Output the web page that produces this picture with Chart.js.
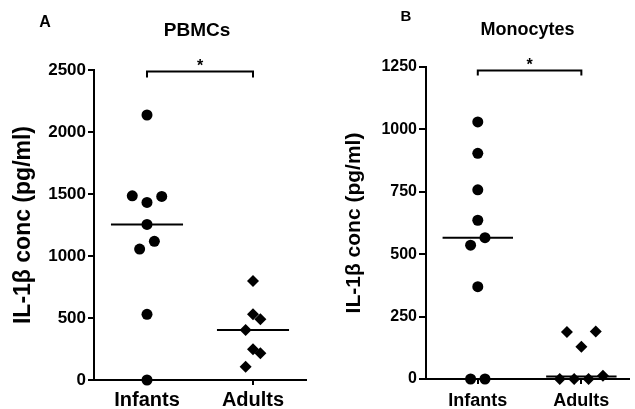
<!DOCTYPE html>
<html>
<head>
<meta charset="utf-8">
<script src="https://cdn.jsdelivr.net/npm/chart.js@4.4.1/dist/chart.umd.min.js"></script>
<style>
  html, body { margin: 0; padding: 0; background: #fff; }
  #wrap { position: relative; width: 635px; height: 409px; overflow: hidden; }
  #wrap canvas { position: absolute; top: 0; }
  #chartA { left: 0; }
  #chartB { left: 318px; }
</style>
</head>
<body>
<div id="wrap">
  <canvas id="chartA" width="318" height="409"></canvas>
  <canvas id="chartB" width="317" height="409"></canvas>
</div>
<script>
// --- data ---
const categories = ['Infants', 'Adults'];

const pbmcInfants = [2137, 1485, 1480, 1432, 1255, 1118, 1056, 530, 0];
const pbmcInfantsJitter = [0, -1, 1, 0, 0, 0.5, -0.5, 0, 0];
const pbmcAdults = [798, 530, 489, 403, 247, 215, 107];
const pbmcAdultsJitter = [0, 0, 0.5, -0.5, 0, 0.5, -0.5];
const pbmcMedians = [1255, 403];
const pbmcTicks = [0, 500, 1000, 1500, 2000, 2500];

const monoInfants = [1030, 904, 758, 636, 566, 536, 370, 0, 0];
const monoInfantsJitter = [0, 0, 0, 0, 0.5, -0.5, 0, -0.5, 0.5];
const monoAdults = [188, 190, 129, 0, 0, 0, 13];
const monoAdultsJitter = [-1, 1, 0, -1.5, -0.5, 0.5, 1.5];
const monoMedians = [566, 10];
const monoTicks = [0, 250, 500, 750, 1000, 1250];

const FONT = '"Liberation Sans", Arial, Helvetica, sans-serif';
const JIT = 0.139;       // horizontal spread of one jitter step (category units)
const HALF_MEDIAN = 0.34; // half width of median bar

const toPoints = (vals, jit, cat) => vals.map((v, i) => ({ x: cat + jit[i] * JIT, y: v }));

function medianSets(medians) {
  return medians.map((m, i) => ({
    type: 'line',
    data: [{ x: i + 1 - HALF_MEDIAN, y: m }, { x: i + 1 + HALF_MEDIAN, y: m }],
    borderColor: '#000',
    borderWidth: 2,
    pointRadius: 0,
    fill: false,
    clip: false
  }));
}

// title, panel letter and significance bracket
const annotate = {
  id: 'annotate',
  afterDraw(chart, args, o) {
    const { ctx, chartArea, scales: { x, y } } = chart;
    ctx.save();
    ctx.fillStyle = '#000';
    ctx.textAlign = 'center';
    ctx.textBaseline = 'middle';
    ctx.font = `bold ${o.titleSize}px ${FONT}`;
    ctx.fillText(o.title, (chartArea.left + chartArea.right) / 2 + o.titleDx, o.titleY);
    ctx.font = `bold ${o.letterSize}px ${FONT}`;
    ctx.fillText(o.letter, o.letterX, o.letterY);

    const x1 = x.getPixelForValue(1), x2 = x.getPixelForValue(2);
    const yb = Math.round(y.getPixelForValue(o.bracketAt)) + 0.5;
    ctx.strokeStyle = '#000';
    ctx.lineWidth = 2;
    ctx.beginPath();
    ctx.moveTo(x1, yb + o.bracketDrop);
    ctx.lineTo(x1, yb);
    ctx.lineTo(x2, yb);
    ctx.lineTo(x2, yb + o.bracketDrop);
    ctx.stroke();
    ctx.textBaseline = 'alphabetic';
    ctx.font = `bold 16px ${FONT}`;
    ctx.fillText('*', (x1 + x2) / 2, yb - 1);
    ctx.restore();
  }
};

function makeChart(id, cfg) {
  new Chart(document.getElementById(id), {
    type: 'scatter',
    data: {
      datasets: [
        {
          data: toPoints(cfg.infants, cfg.infantsJitter, 1),
          pointStyle: 'circle',
          pointRadius: 5.5,
          pointHoverRadius: 5.5,
          backgroundColor: '#000',
          borderColor: '#000',
          borderWidth: 0,
          clip: false
        },
        {
          data: toPoints(cfg.adults, cfg.adultsJitter, 2),
          pointStyle: 'rectRot',
          pointRadius: 6,
          pointHoverRadius: 6,
          backgroundColor: '#000',
          borderColor: '#000',
          borderWidth: 0,
          clip: false
        },
        ...medianSets(cfg.medians)
      ]
    },
    options: {
      responsive: false,
      animation: false,
      devicePixelRatio: 1,
      layout: { padding: { top: cfg.top, right: cfg.right, left: 0, bottom: 0 } },
      plugins: {
        legend: { display: false },
        tooltip: { enabled: false },
        annotate: cfg.annot
      },
      scales: {
        x: {
          type: 'linear',
          min: 0.5,
          max: cfg.xMax,
          afterFit: s => { s.height = cfg.xHeight; },
          afterBuildTicks: s => { s.ticks = categories.map((c, i) => ({ value: i + 1 })); },
          border: { display: true, color: '#000', width: 2 },
          grid: { display: true, drawOnChartArea: false, drawTicks: true, tickLength: 5, color: '#000', lineWidth: 2 },
          ticks: {
            color: '#000',
            padding: cfg.xPad,
            font: { family: FONT, weight: 'bold', size: cfg.catSize },
            callback: v => categories[v - 1]
          }
        },
        y: {
          min: 0,
          max: cfg.ticks[cfg.ticks.length - 1],
          afterFit: s => { s.width = cfg.yWidth; },
          afterBuildTicks: s => { s.ticks = cfg.ticks.map(v => ({ value: v })); },
          border: { display: true, color: '#000', width: 2 },
          grid: { display: true, drawOnChartArea: false, drawTicks: true, tickLength: cfg.yTick, color: '#000', lineWidth: 2 },
          ticks: {
            color: '#000',
            padding: cfg.yPad,
            font: { family: FONT, weight: 'bold', size: cfg.tickSize },
            callback: v => String(v)
          },
          title: {
            display: true,
            text: 'IL-1β conc (pg/ml)',
            color: '#000',
            font: { family: FONT, weight: 'bold', size: cfg.axisTitleSize },
            padding: { top: cfg.axisTitlePad, bottom: 0 }
          }
        }
      }
    },
    plugins: [annotate]
  });
}

makeChart('chartA', {
  infants: pbmcInfants, infantsJitter: pbmcInfantsJitter,
  adults: pbmcAdults, adultsJitter: pbmcAdultsJitter,
  medians: pbmcMedians, ticks: pbmcTicks,
  top: 70, right: 12, xMax: 2.5, xHeight: 29, yWidth: 94,
  xPad: 3, yTick: 6, yPad: 2,
  catSize: 20, tickSize: 17, axisTitleSize: 23, axisTitlePad: 10.2,
  annot: { title: 'PBMCs', titleSize: 19, titleDx: -3, titleY: 31,
           letter: 'A', letterSize: 16, letterX: 45, letterY: 23,
           bracketAt: 2490, bracketDrop: 6 }
});

makeChart('chartB', {
  infants: monoInfants, infantsJitter: monoInfantsJitter,
  adults: monoAdults, adultsJitter: monoAdultsJitter,
  medians: monoMedians, ticks: monoTicks,
  top: 67, right: 0, xMax: 2.46, xHeight: 30, yWidth: 108,
  xPad: 6, yTick: 7, yPad: 2,
  catSize: 18, tickSize: 16, axisTitleSize: 21, axisTitlePad: 23.4,
  annot: { title: 'Monocytes', titleSize: 18, titleDx: 0, titleY: 30,
           letter: 'B', letterSize: 15, letterX: 88, letterY: 17,
           bracketAt: 1237, bracketDrop: 5 }
});
</script>
</body>
</html>
